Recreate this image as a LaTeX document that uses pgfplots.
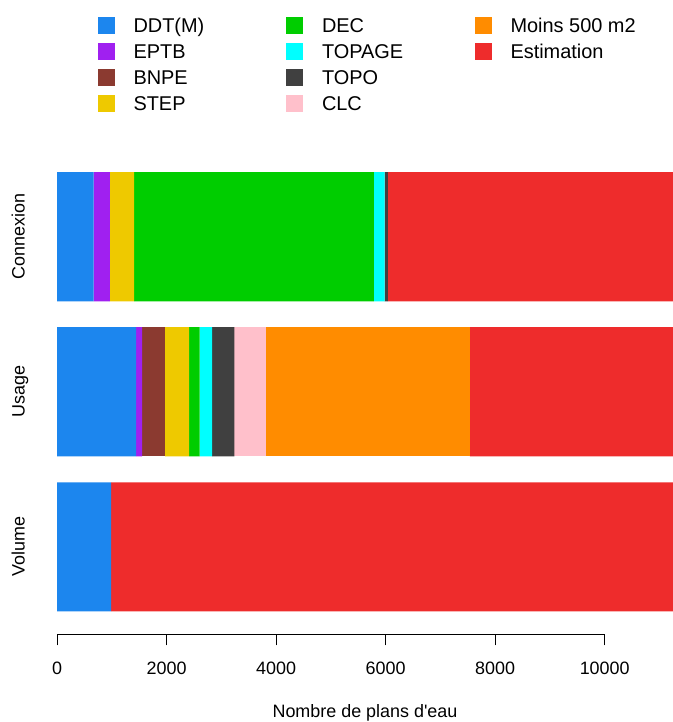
\documentclass[border=0pt]{standalone}
\usepackage{pgfplots}
\pgfplotsset{compat=1.18}
\usepackage{fontspec}
\setmainfont{Liberation Sans}
\definecolor{cDDT}{HTML}{1C86EE}
\definecolor{cEPTB}{HTML}{A020F0}
\definecolor{cBNPE}{HTML}{8B3A30}
\definecolor{cSTEP}{HTML}{EEC900}
\definecolor{cDEC}{HTML}{00CD00}
\definecolor{cTOPAGE}{HTML}{00FFFF}
\definecolor{cTOPO}{HTML}{404040}
\definecolor{cCLC}{HTML}{FFC0CB}
\definecolor{cMOINS}{HTML}{FF8C00}
\definecolor{cEST}{HTML}{EE2C2C}
\newcommand\ent[1]{\makebox[130bp][l]{\rule[-4bp]{0pt}{19bp}#1}}
\begin{document}
\begin{tikzpicture}
\useasboundingbox (0,0) rectangle (673bp,722bp);
\begin{axis}[
  at={(57bp,87.7bp)}, anchor=south west,
  scale only axis, width=616bp, height=484.3bp,
  xmin=0, xmax=11247, ymin=0.023, ymax=3.772,
  xbar stacked, bar width=1,
  clip=false,
  axis x line*=bottom, axis y line*=left,
  axis line style={draw=none,-},
  font=\fontsize{18}{21}\selectfont,
  /pgf/number format/assume math mode=true,
  /pgf/number format/1000 sep={},
  scaled x ticks=false,
  xtick={0,2000,4000,6000,8000,10000},
  xticklabels={0,2000,4000,6000,8000,10000},
  xticklabel style={anchor=base, inner sep=0pt, yshift=-28.7bp},
  ytick={0.7,1.9,3.1}, yticklabels={Volume,Usage,Connexion},
  yticklabel style={xshift=-21.5bp, rotate=90, anchor=base, inner sep=0pt},
  tick align=outside, major tick length=11bp,
  xtick style={black, line width=0.75bp},
  ytick style={draw=none},
  xlabel={Nombre de plans d\textquotesingle eau},
  xlabel style={at={(axis description cs:0.5,0)}, anchor=base, inner sep=0pt, yshift=-83.5bp},
  legend columns=3, legend cell align=left,
  legend image code/.code={\fill[#1,draw=none] (0bp,-8.5bp) rectangle (17bp,8.5bp);},
  legend style={at={(axis description cs:0.0606,1.2788)}, anchor=north west,
    draw=none, fill=none, font=\fontsize{20}{24}\selectfont,
    nodes={inner sep=0pt}, row sep=9bp,
    /tikz/every odd column/.append style={column sep=19bp},
    /tikz/every even column/.append style={column sep=22.5bp}},
]
\addplot[fill=cDDT, draw=none, forget plot] coordinates {(986,0.7) (1443,1.9) (667,3.1)};
\addplot[fill=cEPTB, draw=none, forget plot] coordinates {(0,0.7) (110,1.9) (297,3.1)};
\addplot[fill=cBNPE, draw=none, forget plot] coordinates {(0,0.7) (420,1.9) (0,3.1)};
\addplot[fill=cSTEP, draw=none, forget plot] coordinates {(0,0.7) (438,1.9) (446,3.1)};
\addplot[fill=cDEC, draw=none, forget plot] coordinates {(0,0.7) (195,1.9) (4377,3.1)};
\addplot[fill=cTOPAGE, draw=none, forget plot] coordinates {(0,0.7) (225,1.9) (195,3.1)};
\addplot[fill=cTOPO, draw=none, forget plot] coordinates {(0,0.7) (409,1.9) (61,3.1)};
\addplot[fill=cCLC, draw=none, forget plot] coordinates {(0,0.7) (584,1.9) (0,3.1)};
\addplot[fill=cMOINS, draw=none, forget plot] coordinates {(0,0.7) (3714,1.9) (0,3.1)};
\addplot[fill=cEST, draw=none, forget plot] coordinates {(10261,0.7) (3709,1.9) (5204,3.1)};
\draw[line width=0.75bp] (axis cs:0,0.023) -- (axis cs:10000,0.023);
\addlegendimage{fill=cDDT}\addlegendentry{\ent{DDT(M)}}
\addlegendimage{fill=cDEC}\addlegendentry{\ent{DEC}}
\addlegendimage{fill=cMOINS}\addlegendentry{\ent{Moins 500 m2}}
\addlegendimage{fill=cEPTB}\addlegendentry{\ent{EPTB}}
\addlegendimage{fill=cTOPAGE}\addlegendentry{\ent{TOPAGE}}
\addlegendimage{fill=cEST}\addlegendentry{\ent{Estimation}}
\addlegendimage{fill=cBNPE}\addlegendentry{\ent{BNPE}}
\addlegendimage{fill=cTOPO}\addlegendentry{\ent{TOPO}}
\addlegendimage{empty legend}\addlegendentry{\ent{}}
\addlegendimage{fill=cSTEP}\addlegendentry{\ent{STEP}}
\addlegendimage{fill=cCLC}\addlegendentry{\ent{CLC}}
\end{axis}
\end{tikzpicture}
\end{document}
